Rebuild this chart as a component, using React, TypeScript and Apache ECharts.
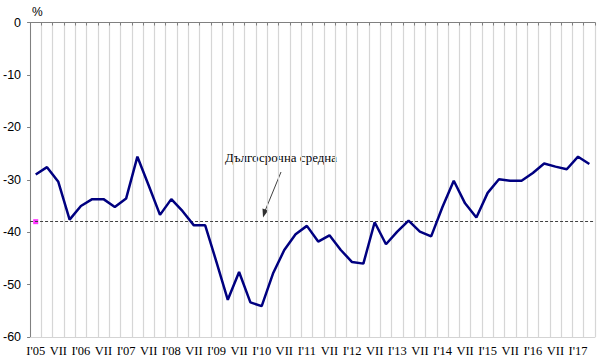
import React, { useEffect, useRef } from "react";
import * as echarts from "echarts";

const categories: string[] = [
  "I'05", "IV", "VII", "X", "I'06", "IV", "VII", "X", "I'07", "IV", "VII", "X",
  "I'08", "IV", "VII", "X", "I'09", "IV", "VII", "X", "I'10", "IV", "VII", "X",
  "I'11", "IV", "VII", "X", "I'12", "IV", "VII", "X", "I'13", "IV", "VII", "X",
  "I'14", "IV", "VII", "X", "I'15", "IV", "VII", "X", "I'16", "IV", "VII", "X",
  "I'17", "IV",
];

const values: number[] = [
  -29.0, -27.6, -30.4, -37.6, -35.0, -33.7, -33.7, -35.2, -33.6, -25.6, -31.1, -36.7,
  -33.7, -36.0, -38.7, -38.7, -45.7, -52.9, -47.6, -53.4, -54.1, -47.9, -43.4, -40.4,
  -38.8, -41.8, -40.6, -43.4, -45.7, -46.0, -38.1, -42.3, -39.9, -37.8, -39.9, -40.8,
  -35.2, -30.2, -34.5, -37.2, -32.5, -29.9, -30.2, -30.2, -28.7, -26.9, -27.5, -28.0,
  -25.6, -27.0,
];

const longTermAverage: number[] = [-38.0];

const yTicks: number[] = [-60, -50, -40, -30, -20, -10, 0];

const annotationText = "Дългосрочна средна";
const unitText = "%";

export default function App() {
  const ref = useRef<HTMLDivElement>(null);

  useEffect(() => {
    document.body.style.margin = "0";
    if (!ref.current) return;
    const chart = echarts.init(ref.current, undefined, { renderer: "svg" });
    const avg = longTermAverage[0];
    chart.setOption({
      animation: false,
      backgroundColor: "#ffffff",
      grid: { left: 30, right: 9, top: 22.5, bottom: 24, containLabel: false },
      xAxis: [
        {
          type: "category",
          data: categories,
          position: "bottom",
          boundaryGap: true,
          axisLine: { show: true, onZero: false, lineStyle: { color: "#d4d4d4", width: 1 } },
          axisTick: { show: false },
          axisLabel: {
            interval: 1,
            color: "#000000",
            fontFamily: "Liberation Serif",
            fontSize: 12.5,
            margin: 7,
          },
          splitLine: { show: true, interval: 0, lineStyle: { color: "#d6d6d6", width: 1.2 } },
        },
        {
          type: "category",
          data: categories,
          position: "top",
          boundaryGap: true,
          axisLine: { show: true, onZero: false, lineStyle: { color: "#808080", width: 1 } },
          axisTick: { show: true, inside: true, length: 3, interval: 0, lineStyle: { color: "#808080" } },
          axisLabel: { show: false },
          splitLine: { show: false },
        },
      ],
      yAxis: {
        type: "value",
        min: yTicks[0],
        max: yTicks[yTicks.length - 1],
        interval: 10,
        axisLine: { show: true, lineStyle: { color: "#808080", width: 1 } },
        axisTick: { show: true, length: 3, lineStyle: { color: "#808080" } },
        axisLabel: {
          color: "#000000",
          fontFamily: "Liberation Sans",
          fontSize: 12.5,
          margin: 9,
        },
        splitLine: { show: false },
      },
      series: [
        {
          type: "line",
          data: values,
          xAxisIndex: 0,
          showSymbol: false,
          symbol: "none",
          lineStyle: { color: "#000080", width: 2.5 },
          z: 5,
        },
        {
          type: "scatter",
          xAxisIndex: 0,
          data: [[0, avg]],
          symbol: "rect",
          symbolSize: 5,
          itemStyle: { color: "#ff00ff" },
          z: 4,
          markLine: {
            silent: true,
            symbol: "none",
            label: { show: false },
            lineStyle: { color: "#404040", width: 1, type: [3, 2] },
            data: [{ yAxis: avg }],
          },
        },
      ],
      graphic: [
        {
          type: "text",
          left: 32,
          top: 6,
          style: { text: unitText, fontFamily: "Liberation Sans", fontSize: 12, fill: "#000" },
        },
        {
          type: "text",
          x: 225,
          y: 157,
          style: {
            text: annotationText,
            fontFamily: "Liberation Serif",
            fontSize: 13,
            fill: "#000",
            textVerticalAlign: "middle",
            textAlign: "left",
          },
        },
        {
          type: "line",
          shape: { x1: 281, y1: 172, x2: 265, y2: 211 },
          style: { stroke: "#404040", lineWidth: 1 },
        },
        {
          type: "polygon",
          shape: { points: [[263, 217.5], [268.3, 210.6], [262.5, 208.6]] },
          style: { fill: "#303030" },
        },
      ],
    });
    return () => chart.dispose();
  }, []);

  return <div ref={ref} style={{ width: 604, height: 361 }} />;
}
